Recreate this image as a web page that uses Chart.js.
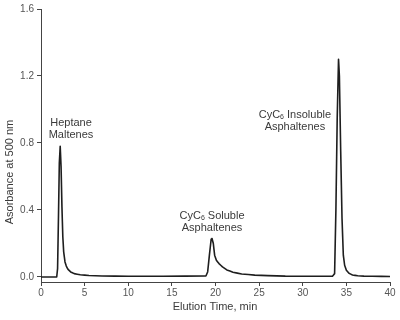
<!DOCTYPE html>
<html>
<head>
<meta charset="utf-8">
<script src="https://cdn.jsdelivr.net/npm/chart.js@4/dist/chart.umd.min.js"></script>
<style>
  html, body { margin: 0; padding: 0; background: #fff; }
  #wrap { width: 400px; height: 320px; }
</style>
</head>
<body>
<div id="wrap"><canvas id="c"></canvas></div>
<script>
// elution time (min) and absorbance
const times = [
  0, 1.8, 1.9, 2.0, 2.1, 2.2, 2.3, 2.4, 2.5, 2.6, 2.75, 2.9, 3.1, 3.4, 3.8, 4.5, 5.5, 7, 10,
  14, 18.9, 19.1, 19.3, 19.5, 19.6, 19.75, 19.9, 20.1, 20.4, 20.8, 21.3, 22, 23, 24.5, 26, 28,
  31, 33.4, 33.65, 33.8, 33.95, 34.1, 34.2, 34.35, 34.5, 34.65, 34.8, 35, 35.3, 35.7, 36.3, 37, 38, 40
];
const absorbance = [
  0, 0, 0.05, 0.35, 0.68, 0.78, 0.66, 0.42, 0.24, 0.15, 0.09, 0.065, 0.045, 0.03, 0.02, 0.013, 0.009, 0.006, 0.004,
  0.004, 0.006, 0.03, 0.13, 0.225, 0.23, 0.2, 0.13, 0.1, 0.08, 0.06, 0.042, 0.028, 0.018, 0.011, 0.008, 0.005,
  0.004, 0.004, 0.02, 0.4, 0.95, 1.3, 1.2, 0.75, 0.35, 0.13, 0.07, 0.04, 0.022, 0.012, 0.007, 0.005, 0.004, 0.003
];
const xTicks = [0, 5, 10, 15, 20, 25, 30, 35, 40];
const yTicks = [0, 0.4, 0.8, 1.2, 1.6];
const peakLabels = [
  { t: 3.44, y: 0.92, lines: [["Heptane"], ["Maltenes"]] },
  { t: 19.6, y: 0.364, lines: [["CyC", "6", " Soluble"], ["Asphaltenes"]] },
  { t: 29.1, y: 0.967, lines: [["CyC", "6", " Insoluble"], ["Asphaltenes"]] }
];

const FONT = '"Liberation Sans", Arial, sans-serif';

// line parts: [text, subscript, text]
function drawLine(ctx, parts, cx, cy) {
  const big = "11px " + FONT, small = "7px " + FONT;
  const widths = parts.map((p, i) => {
    ctx.font = i === 1 ? small : big;
    return ctx.measureText(p).width;
  });
  let x = cx - widths.reduce((a, b) => a + b, 0) / 2;
  parts.forEach((p, i) => {
    ctx.font = i === 1 ? small : big;
    ctx.fillText(p, x, i === 1 ? cy + 2 : cy);
    x += widths[i];
  });
}

const labelsPlugin = {
  id: "peakLabels",
  afterDraw(chart) {
    const { ctx, scales: { x, y } } = chart;
    ctx.save();
    ctx.fillStyle = "#3a3a3a";
    ctx.textBaseline = "middle";
    ctx.textAlign = "left";
    peakLabels.forEach(l => {
      const px = x.getPixelForValue(l.t);
      const py = y.getPixelForValue(l.y);
      l.lines.forEach((parts, i) => drawLine(ctx, parts, px, py + i * 12));
    });
    // axis titles
    ctx.font = "11px " + FONT;
    ctx.textAlign = "center";
    ctx.fillText("Elution Time, min", 215, 307);
    ctx.translate(10, 172);
    ctx.rotate(-Math.PI / 2);
    ctx.fillText("Asorbance at 500 nm", 0, 0);
    ctx.restore();
  }
};

new Chart(document.getElementById("c"), {
  type: "line",
  data: {
    datasets: [{
      data: times.map((t, i) => ({ x: t, y: absorbance[i] })),
      borderColor: "#1e1e1e",
      borderWidth: 1.6,
      borderJoinStyle: "round",
      pointRadius: 0,
      // tiny tension keeps straight segments but avoids the per-pixel fast path
      tension: 0.001,
      fill: false
    }]
  },
  options: {
    responsive: true,
    maintainAspectRatio: false,
    animation: false,
    layout: { padding: { top: 9, right: 10, left: 0, bottom: 0 } },
    plugins: { legend: { display: false }, tooltip: { enabled: false } },
    scales: {
      x: {
        type: "linear",
        min: 0,
        max: 40,
        afterBuildTicks: s => { s.ticks = xTicks.map(v => ({ value: v })); },
        afterFit: s => { s.height = 38; },
        border: { display: true, color: "#444", width: 1 },
        grid: { drawOnChartArea: false, drawTicks: true, tickLength: 4, color: "#444" },
        ticks: { color: "#555", font: { family: FONT, size: 10 }, padding: 1, maxRotation: 0 }
      },
      y: {
        type: "linear",
        min: -0.03,
        max: 1.6,
        afterBuildTicks: s => { s.ticks = yTicks.map(v => ({ value: v })); },
        afterFit: s => { s.width = 41; },
        border: { display: true, color: "#444", width: 1 },
        grid: { drawOnChartArea: false, drawTicks: true, tickLength: 4, color: "#444" },
        ticks: { color: "#555", font: { family: FONT, size: 10 }, padding: 3, callback: v => v.toFixed(1) }
      }
    }
  },
  plugins: [labelsPlugin]
});
</script>
</body>
</html>
